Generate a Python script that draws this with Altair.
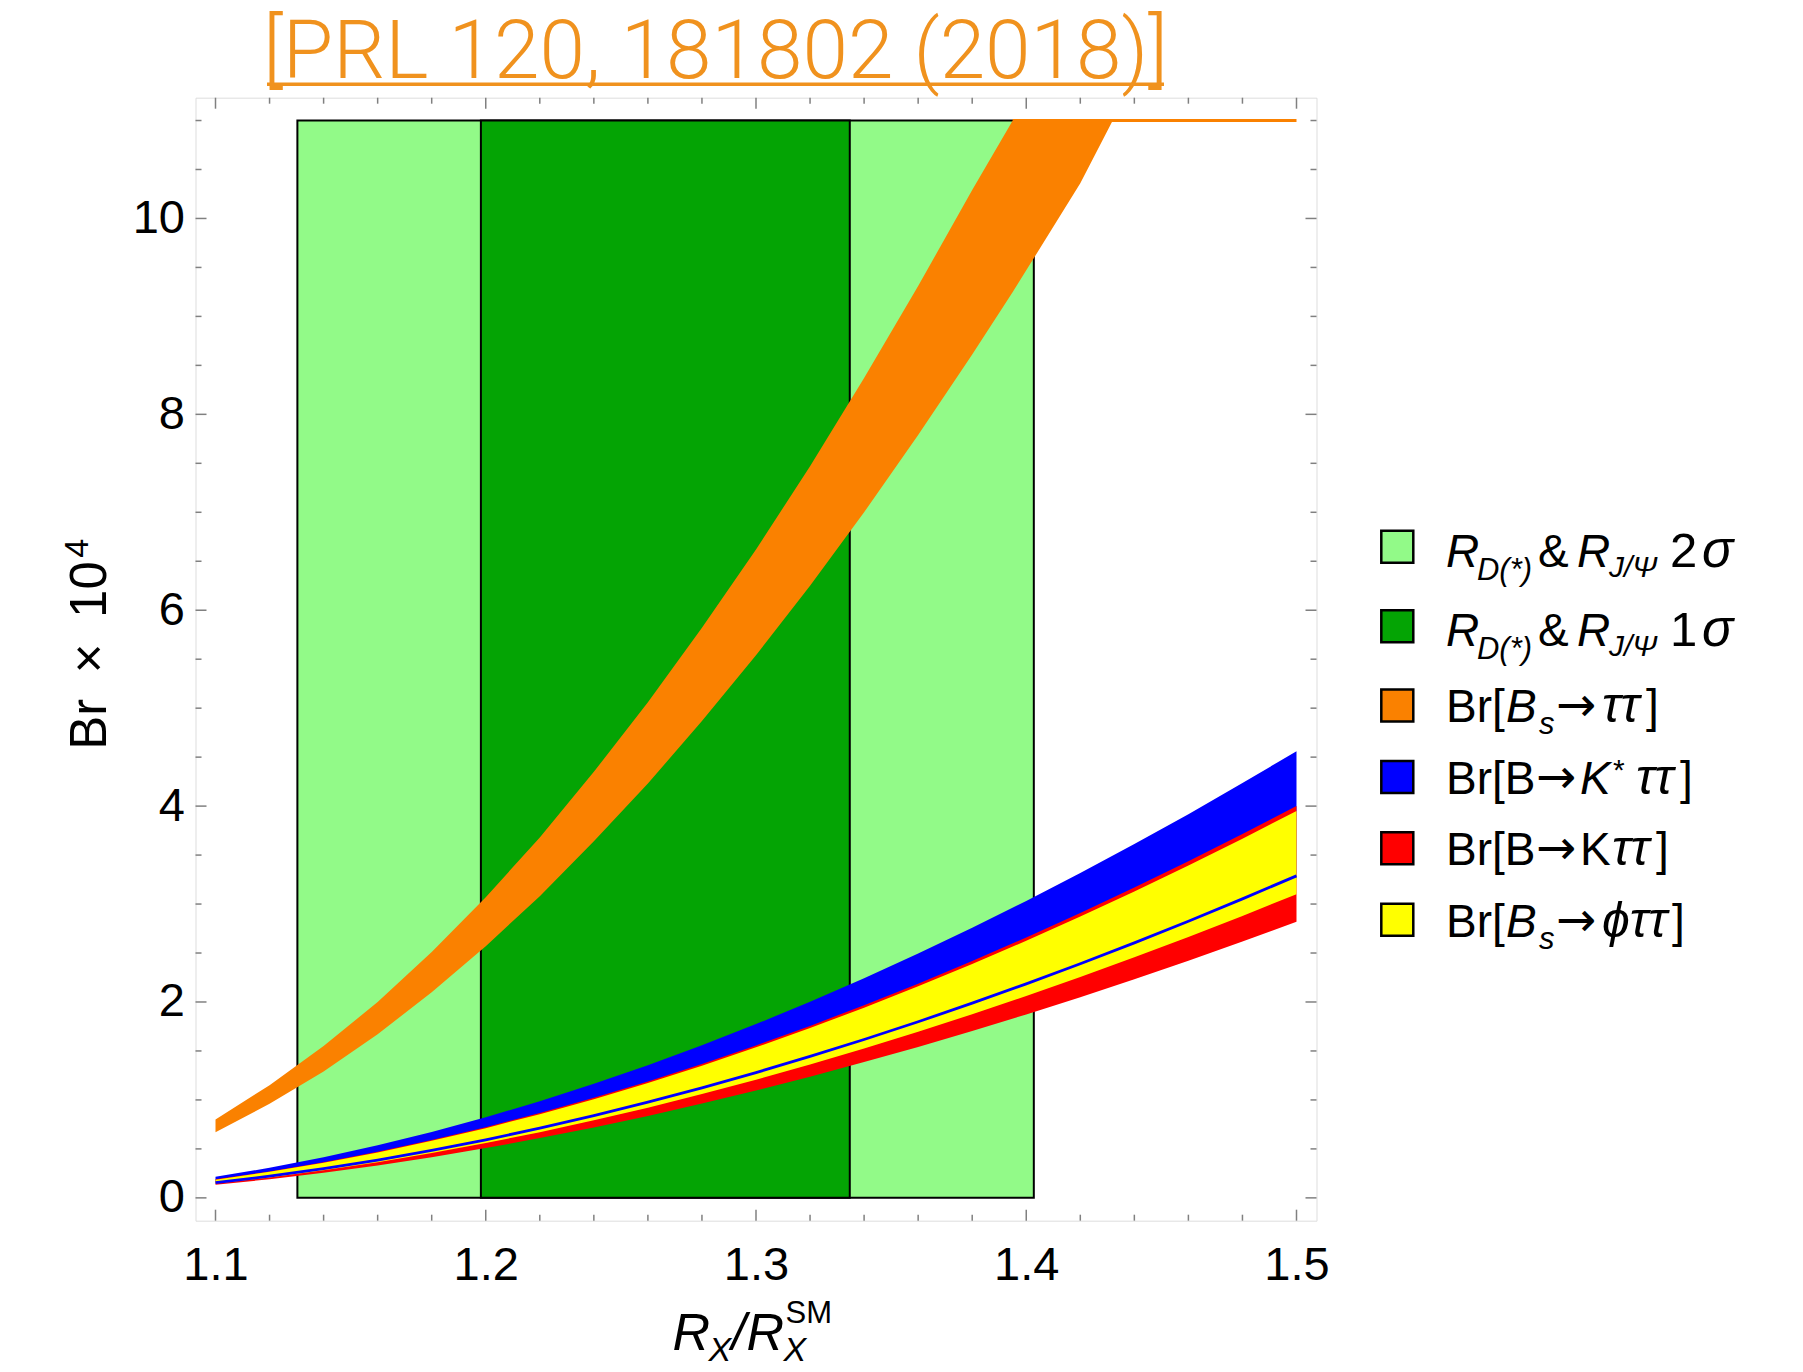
import altair as alt
import pandas as pd

# ---------------- data ----------------
X_LOW = [1.10, 1.12, 1.14, 1.16, 1.18, 1.20, 1.22, 1.24, 1.26, 1.28, 1.30,
         1.32, 1.34, 1.36, 1.38, 1.40, 1.42, 1.44, 1.46, 1.48, 1.50]
KSTAR_HI = [0.215, 0.307, 0.414, 0.536, 0.672, 0.823, 0.987, 1.164, 1.355, 1.558, 1.774,
            2.002, 2.242, 2.494, 2.757, 3.031, 3.316, 3.612, 3.918, 4.235, 4.561]
KSTAR_LO = [0.155, 0.221, 0.298, 0.386, 0.485, 0.593, 0.711, 0.839, 0.977, 1.124, 1.279,
            1.444, 1.617, 1.798, 1.988, 2.185, 2.391, 2.604, 2.825, 3.053, 3.288]
K_HI = [0.189, 0.269, 0.363, 0.470, 0.590, 0.722, 0.866, 1.021, 1.188, 1.367, 1.556,
        1.756, 1.967, 2.187, 2.418, 2.659, 2.909, 3.168, 3.436, 3.714, 4.000]
K_LO = [0.133, 0.190, 0.256, 0.331, 0.415, 0.508, 0.610, 0.719, 0.837, 0.963, 1.096,
        1.237, 1.386, 1.541, 1.704, 1.873, 2.049, 2.232, 2.421, 2.617, 2.818]
PHI_HI = [0.186, 0.266, 0.359, 0.464, 0.582, 0.712, 0.855, 1.008, 1.173, 1.350, 1.537,
          1.734, 1.942, 2.160, 2.388, 2.625, 2.872, 3.128, 3.393, 3.667, 3.950]
PHI_LO = [0.146, 0.209, 0.282, 0.364, 0.457, 0.559, 0.671, 0.792, 0.921, 1.060, 1.207,
          1.362, 1.525, 1.696, 1.875, 2.061, 2.255, 2.456, 2.664, 2.879, 3.101]

X_BS = [1.10, 1.12, 1.14, 1.16, 1.18, 1.20, 1.22, 1.24, 1.26, 1.28, 1.30, 1.32, 1.34,
        1.36, 1.38, 1.395, 1.40, 1.42, 1.432, 1.44, 1.46, 1.48, 1.50]
BS_HI = [0.80, 1.15, 1.55, 2.00, 2.51, 3.07, 3.68, 4.35, 5.06, 5.82, 6.62, 7.47, 8.37,
         9.31, 10.29, 11.0, 11.0, 11.0, 11.0, 11.0, 11.0, 11.0, 11.0]
BS_LO = [0.67, 0.96, 1.29, 1.67, 2.10, 2.57, 3.08, 3.64, 4.23, 4.87, 5.54, 6.25, 7.00,
         7.79, 8.61, 9.25, 9.47, 10.36, 11.0, 11.0, 11.0, 11.0, 11.0]

BOX_X = [1.1303, 1.1982]
BOX_X2 = [1.4028, 1.3347]
BOX_Y = [0.0, 0.0]
BOX_Y2 = [11.0, 11.0]
BOX_COLORS = ["#92FA88", "#04A404"]

X_MAJOR = [1.1, 1.2, 1.3, 1.4, 1.5]
X_MINOR = [1.12, 1.14, 1.16, 1.18, 1.22, 1.24, 1.26, 1.28, 1.32, 1.34, 1.36, 1.38,
           1.42, 1.44, 1.46, 1.48]
Y_MAJOR = [0, 2, 4, 6, 8, 10]
Y_MINOR = [0.5, 1, 1.5, 2.5, 3, 3.5, 4.5, 5, 5.5, 6.5, 7, 7.5, 8.5, 9, 9.5, 10.5, 11]

LEGEND_COLORS = ["#92FA88", "#04A404", "#FA8100", "#0000FF", "#FF0000", "#FFFF00"]

ORANGE = "#FA8100"
TITLE_COLOR = "#F0921E"

# ---------------- layout ----------------
W, H = 1121, 1123
XDOM = [1.0926, 1.5074]
YDOM = [-0.233, 11.233]
FONT = "Liberation Sans"
ARROW_FONT = "DejaVu Sans"

xs = alt.Scale(domain=XDOM, nice=False, zero=False)
ys = alt.Scale(domain=YDOM, nice=False, zero=False)

low_df = pd.DataFrame({"x": X_LOW, "kh": KSTAR_HI, "kl": KSTAR_LO, "rh": K_HI, "rl": K_LO,
                       "ph": PHI_HI, "pl": PHI_LO})
bs_df = pd.DataFrame({"x": X_BS, "hi": BS_HI, "lo": BS_LO})
box_df = pd.DataFrame({"x": BOX_X, "x2": BOX_X2, "y": BOX_Y, "y2": BOX_Y2, "c": BOX_COLORS})

one = pd.DataFrame({"a": [0]})

xaxis = alt.Axis(values=X_MAJOR, format=".1f", ticks=False, tickSize=0, domain=False, grid=False,
                 labelFontSize=47, labelFont=FONT, labelColor="black", labelPadding=22,
                 title=None, labelFlush=False)
yaxis = alt.Axis(values=Y_MAJOR, format="d", ticks=False, tickSize=0, domain=False, grid=False,
                 labelFontSize=47, labelFont=FONT, labelColor="black", labelPadding=11,
                 title=None)

boxes = alt.Chart(box_df).mark_rect(stroke="black", strokeWidth=2).encode(
    x=alt.X("x:Q", scale=xs, axis=xaxis),
    x2="x2:Q",
    y=alt.Y("y:Q", scale=ys, axis=yaxis),
    y2="y2:Q",
    color=alt.Color("c:N", scale=None),
)

orange_band = alt.Chart(bs_df).mark_area(color=ORANGE, opacity=1).encode(
    x=alt.X("x:Q", scale=xs), y=alt.Y("lo:Q", scale=ys), y2="hi:Q")
orange_top = alt.Chart(bs_df).transform_filter("datum.x >= 1.395").mark_line(
    color=ORANGE, strokeWidth=3).encode(x=alt.X("x:Q", scale=xs), y=alt.Y("hi:Q", scale=ys))

blue_band = alt.Chart(low_df).mark_area(color="#0000FF", opacity=1).encode(
    x=alt.X("x:Q", scale=xs), y=alt.Y("kl:Q", scale=ys), y2="kh:Q")
red_band = alt.Chart(low_df).mark_area(color="#FF0000", opacity=1).encode(
    x=alt.X("x:Q", scale=xs), y=alt.Y("rl:Q", scale=ys), y2="rh:Q")
yellow_band = alt.Chart(low_df).mark_area(color="#FFFF00", opacity=1).encode(
    x=alt.X("x:Q", scale=xs), y=alt.Y("pl:Q", scale=ys), y2="ph:Q")
blue_line = alt.Chart(low_df).mark_line(color="#0000FF", strokeWidth=2.8).encode(
    x=alt.X("x:Q", scale=xs), y=alt.Y("kl:Q", scale=ys))

# ---------------- inward frame ticks ----------------
TICK_C = "#808080"
def xticks(vals, length):
    d = pd.DataFrame({"v": vals})
    b = alt.Chart(d).mark_rule(color=TICK_C, strokeWidth=1.5).encode(
        x=alt.X("v:Q", scale=xs), y=alt.value(H), y2=alt.value(H - length))
    t = alt.Chart(d).mark_rule(color=TICK_C, strokeWidth=1.5).encode(
        x=alt.X("v:Q", scale=xs), y=alt.value(0), y2=alt.value(length))
    return [b, t]

def yticks(vals, length):
    d = pd.DataFrame({"v": vals})
    l = alt.Chart(d).mark_rule(color=TICK_C, strokeWidth=1.5).encode(
        y=alt.Y("v:Q", scale=ys), x=alt.value(0), x2=alt.value(length))
    r = alt.Chart(d).mark_rule(color=TICK_C, strokeWidth=1.5).encode(
        y=alt.Y("v:Q", scale=ys), x=alt.value(W), x2=alt.value(W - length))
    return [l, r]

tick_layers = xticks(X_MAJOR, 11) + xticks(X_MINOR, 6) + yticks(Y_MAJOR, 11) + yticks(Y_MINOR, 6)

# ---------------- text helpers ----------------
def txt(s, x, y, size, italic=False, color="black", font=FONT, weight="normal",
        align="left", angle=0):
    return alt.Chart(one).mark_text(
        text=s, align=align, baseline="alphabetic", fontSize=size, font=font,
        fontStyle="italic" if italic else "normal", fontWeight=weight, color=color,
        angle=angle,
    ).encode(x=alt.value(x), y=alt.value(y))

texts = []
# title
texts.append(txt("[PRL 120, 181802 (2018)]", 520, -20, 82, color=TITLE_COLOR,
                 font="Roboto", weight=300, align="center"))
underline = alt.Chart(one).mark_rule(color=TITLE_COLOR, strokeWidth=3.5).encode(
    x=alt.value(71.5), x2=alt.value(968.5), y=alt.value(-13.5))

# y axis title  Br × 10^4  (rotated)
texts += [
    txt("Br\u2002×\u200210", -90, 652, 51, angle=270),
    txt("4", -108, 460, 34, angle=270),
]

# x axis title  R_X / R_X^SM
xb = 1252
texts += [
    txt("R", 477, xb, 52, italic=True),
    txt("X", 513, xb + 11, 34, italic=True),
    txt("/", 536, xb, 52, italic=True),
    txt("R", 551, xb, 52, italic=True),
    txt("X", 588, xb + 11, 34, italic=True),
    txt("SM", 590, xb - 27, 31),
]

# legend
LX = 1201.8
LEG_Y = [449, 528.6, 607.8, 679.3, 750.6, 822]
for c, cy in zip(LEGEND_COLORS, LEG_Y):
    texts.append(alt.Chart(one).mark_square(size=32 * 32, color=c, stroke="black",
                                            strokeWidth=2.5, opacity=1, filled=True)
                 .encode(x=alt.value(LX), y=alt.value(cy)))

TX = 1250.5
FS = 46
TS = 50  # tau size
AS = 48  # arrow size
for i, sig in enumerate(["2σ", "1σ"]):
    b = LEG_Y[i] + 20
    texts += [
        txt("R", TX, b, FS, italic=True),
        txt("D(*)", TX + 31, b + 13, 31, italic=True),
        txt("&", TX + 92, b, FS),
        txt("R", TX + 131, b, FS, italic=True),
        txt("J/Ψ", TX + 163, b + 10, 30, italic=True),
        txt(sig[0], TX + 224, b, 49),
        txt(sig[1], TX + 256, b, 52, italic=True),
    ]

b = LEG_Y[2] + 17
texts += [
    txt("Br[", TX, b, FS),
    txt("B", TX + 60, b, FS, italic=True),
    txt("s", TX + 93, b + 12, 31, italic=True),
    txt("→", TX + 110, b - 1, AS, font=ARROW_FONT),
    txt("ττ", TX + 156, b, TS, italic=True),
    txt("]", TX + 200, b, FS),
]
b = LEG_Y[3] + 17
texts += [
    txt("Br[B", TX, b, FS),
    txt("→", TX + 90, b - 1, AS, font=ARROW_FONT),
    txt("K", TX + 134, b, FS, italic=True),
    txt("*", TX + 167, b - 14, 30),
    txt("ττ", TX + 190, b, TS, italic=True),
    txt("]", TX + 234, b, FS),
]
b = LEG_Y[4] + 17
texts += [
    txt("Br[B", TX, b, FS),
    txt("→", TX + 90, b - 1, AS, font=ARROW_FONT),
    txt("K", TX + 134, b, FS),
    txt("ττ", TX + 166, b, TS, italic=True),
    txt("]", TX + 210, b, FS),
]
b = LEG_Y[5] + 17
texts += [
    txt("Br[", TX, b, FS),
    txt("B", TX + 60, b, FS, italic=True),
    txt("s", TX + 93, b + 12, 31, italic=True),
    txt("→", TX + 110, b - 1, AS, font=ARROW_FONT),
    txt("ϕττ", TX + 156, b, TS, italic=True),
    txt("]", TX + 226, b, FS),
]

chart = alt.layer(
    boxes, orange_band, orange_top, blue_band, red_band, yellow_band, blue_line,
    *tick_layers, underline, *texts
).properties(
    width=W, height=H,
    autosize=alt.AutoSizeParams(type="none"),
    padding={"left": 195.5, "top": 97.7, "right": 486, "bottom": 151},
).configure_view(
    stroke="#9a9a9a", strokeWidth=2
).configure(background="white")

chart.save("out.html", embed_options={"renderer": "svg", "actions": False})
